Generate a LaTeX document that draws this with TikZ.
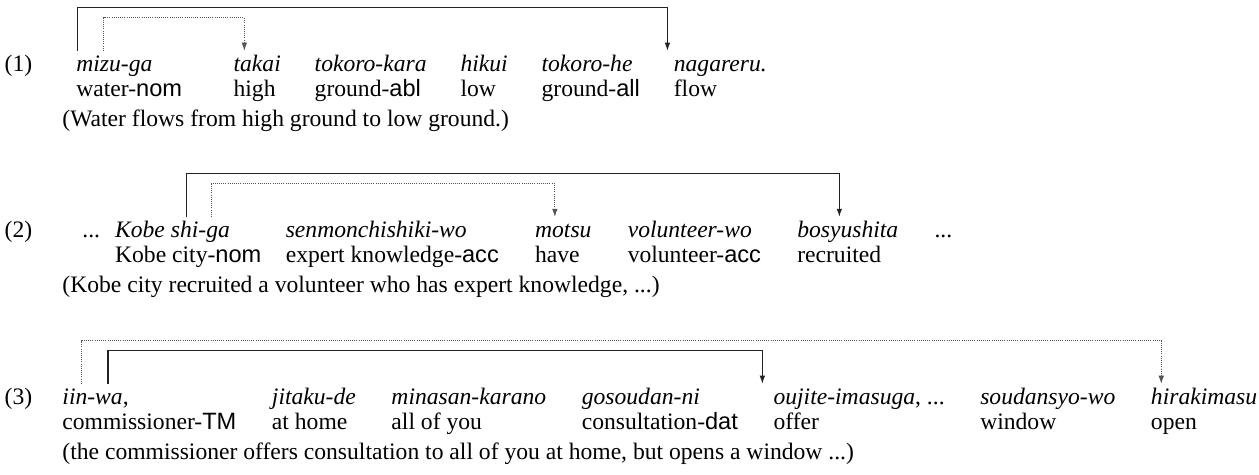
\documentclass[tikz,border=0pt]{standalone}
\usepackage{fontspec}
\setmainfont{Liberation Serif}
\setsansfont{Liberation Sans}
\usetikzlibrary{positioning,arrows.meta}
\definecolor{clinea}{HTML}{222222}
\definecolor{cpunto}{HTML}{555555}
\tikzset{
  palabra/.style={inner sep=0pt, align=left, anchor=north west,
    font=\fontsize{11}{11.65}\selectfont},
  trad/.style={inner sep=0pt, anchor=north west, font=\fontsize{11}{11.65}\selectfont},
  flecha/.style={-{Latex[length=3.8pt,width=2.6pt]}, line width=0.55pt, draw=clinea},
  flechap/.style={-{Latex[length=3.8pt,width=2.6pt]}, line width=0.45pt, draw=cpunto,
    dash pattern=on 0.45pt off 0.55pt},
}
\newcommand{\gl}[2]{\strut#1\\\strut#2}

\begin{document}
\begin{tikzpicture}
  \useasboundingbox (0,0) rectangle (586.7pt,221.35pt);
  % (1)
  \node[palabra] (n1) at (2pt,196.45pt) {\strut(1)};
  \node[palabra] (a1) at (35.4pt,196.45pt) {\gl{\textit{mizu-ga}}{water-\textsf{nom}}};
  \node[palabra, right=23.6pt of a1.north east, anchor=north west] (a2) {\gl{\textit{takai}}{high}};
  \node[palabra, right=15.4pt of a2.north east, anchor=north west] (a3) {\gl{\textit{tokoro-kara}}{ground-\textsf{abl}}};
  \node[palabra, right=15.4pt of a3.north east, anchor=north west] (a4) {\gl{\textit{hikui}}{low}};
  \node[palabra, right=15.4pt of a4.north east, anchor=north west] (a5) {\gl{\textit{tokoro-he}}{ground-\textsf{all}}};
  \node[palabra, right=15.4pt of a5.north east, anchor=north west] (a6) {\gl{\textit{nagareru.}}{flow}};
  \node[trad] (t1) at (28.9pt,170.8pt) {\strut(Water flows from high ground to low ground.)};
  \draw[flecha] ([shift={(0.9pt,1.2pt)}]a1.north west) -- ++(0,20.1pt) -| ([shift={(-2.8pt,1.2pt)}]a6.north west);
  \draw[flechap] ([shift={(13pt,1.2pt)}]a1.north west) -- ++(0,15.4pt) -| ([shift={(5.2pt,1.2pt)}]a2.north west);
  % (2)
  \node[palabra] (n2) at (2pt,119.05pt) {\strut(2)};
  \node[palabra] (b1) at (38.2pt,119.05pt) {\strut...};
  \node[palabra, right=6.6pt of b1.north east, anchor=north west] (b2) {\gl{\textit{Kobe shi-ga}}{Kobe city-\textsf{nom}}};
  \node[palabra, right=11pt of b2.north east, anchor=north west] (b3) {\gl{\textit{senmonchishiki-wo}}{expert knowledge-\textsf{acc}}};
  \node[palabra, right=16.5pt of b3.north east, anchor=north west] (b4) {\gl{\textit{motsu}}{have}};
  \node[palabra, right=16.5pt of b4.north east, anchor=north west] (b5) {\gl{\textit{volunteer-wo}}{volunteer-\textsf{acc}}};
  \node[palabra, right=16.5pt of b5.north east, anchor=north west] (b6) {\gl{\textit{bosyushita}}{recruited}};
  \node[palabra, right=16.5pt of b6.north east, anchor=north west] (b7) {\strut...};
  \node[trad] (t2) at (28.9pt,93.4pt) {\strut(Kobe city recruited a volunteer who has expert knowledge, ...)};
  \draw[flecha] ([shift={(33.5pt,1.2pt)}]b2.north west) -- ++(0,20.1pt) -| ([shift={(19.8pt,1.2pt)}]b6.north west);
  \draw[flechap] ([shift={(45pt,1.2pt)}]b2.north west) -- ++(0,15.4pt) -| ([shift={(9.4pt,1.2pt)}]b4.north west);
  % (3)
  \node[palabra] (n3) at (2pt,41.25pt) {\strut(3)};
  \node[palabra] (c1) at (28.9pt,41.25pt) {\gl{\textit{iin-wa},}{commissioner-\textsf{TM}}};
  \node[palabra, right=16.2pt of c1.north east, anchor=north west] (c2) {\gl{\textit{jitaku-de}}{at home}};
  \node[palabra, right=16.2pt of c2.north east, anchor=north west] (c3) {\gl{\textit{minasan-karano}}{all of you}};
  \node[palabra, right=16.2pt of c3.north east, anchor=north west] (c4) {\gl{\textit{gosoudan-ni}}{consultation-\textsf{dat}}};
  \node[palabra, right=16.2pt of c4.north east, anchor=north west] (c5) {\gl{\textit{oujite-imasuga}, ...}{offer}};
  \node[palabra, right=16.2pt of c5.north east, anchor=north west] (c6) {\gl{\textit{soudansyo-wo}}{window}};
  \node[palabra, right=16.2pt of c6.north east, anchor=north west] (c7) {\gl{\textit{hirakimasu}}{open}};
  \node[trad] (t3) at (28.9pt,15.6pt) {\strut(the commissioner offers consultation to all of you at home, but opens a window ...)};
  \draw[flechap] ([shift={(9.3pt,1.2pt)}]c1.north west) -- ++(0,20.1pt) -| ([shift={(5pt,1.2pt)}]c7.north west);
  \draw[flecha] ([shift={(21.4pt,1.2pt)}]c1.north west) -- ++(0,15.4pt) -| ([shift={(-5pt,1.2pt)}]c5.north west);
\end{tikzpicture}
\end{document}
